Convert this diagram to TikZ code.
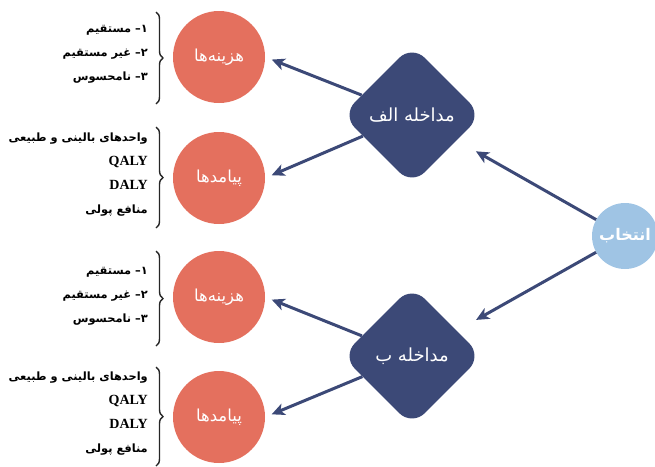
\documentclass[tikz,border=0pt]{standalone}
\usepackage{fontspec}
\setmainfont{Liberation Serif}
\newfontfamily\arabicfont[Script=Arabic]{DejaVu Sans}
\TeXXeTstate=1
\usetikzlibrary{shapes.geometric, arrows.meta, decorations.pathreplacing}
\definecolor{salmon}{HTML}{E4705E}
\definecolor{navy}{HTML}{3C4977}
\definecolor{skyblue}{HTML}{9FC4E4}

\begin{document}
\begin{tikzpicture}[x=1pt,y=-1pt,
  outcome/.style={circle, fill=salmon, minimum size=92pt, inner sep=0pt,
    text=white, font=\arabicfont\fontsize{16.5}{18}\selectfont},
  option/.style={diamond, fill=navy, minimum width=140pt, minimum height=140pt,
    inner sep=0pt, rounded corners=18pt, text=white,
    font=\arabicfont\fontsize{18}{20}\selectfont},
  choice/.style={circle, fill=skyblue, minimum size=66pt, inner sep=0pt,
    text=white, font=\arabicfont\bfseries\fontsize{16}{18}\selectfont},
  link/.style={draw=navy, line width=3pt,
    -{Stealth[length=13pt,width=12pt,inset=3.5pt]}},
  items/.style={anchor=east, align=right, inner sep=0pt,
    font=\arabicfont\bfseries\fontsize{11.4}{24}\selectfont},
  bracket/.style={draw=black!85, line width=1.4pt, decorate,
    decoration={brace, amplitude=7pt}}]

\useasboundingbox (0,0) rectangle (655,466);

% main choice and the two interventions
\node[choice] (pick) at (625,236) {\beginR انتخاب\endR};
\node[option] (optA) at (412,115) {\beginR مداخله الف\endR};
\node[option] (optB) at (412,356) {\beginR مداخله ب\endR};

% costs and outcomes of each intervention
\node[outcome] (costA) at (219,57)  {\beginR هزینه^^^^200cها\endR};
\node[outcome] (effA)  at (219,178) {\beginR پیامدها\endR};
\node[outcome] (costB) at (219,297) {\beginR هزینه^^^^200cها\endR};
\node[outcome] (effB)  at (219,417) {\beginR پیامدها\endR};

% arrows
\draw[link, shorten >=22pt] (pick) -- (optA);
\draw[link, shorten >=22pt] (pick) -- (optB);
\draw[link, shorten >=7pt] (optA) -- (costA.east);
\draw[link, shorten >=7pt] (optA) -- (effA.east);
\draw[link, shorten >=7pt] (optB) -- (costB.east);
\draw[link, shorten >=7pt] (optB) -- (effB.east);

% braces
\coordinate (bA1) at (156,12);  \coordinate (bA2) at (156,104);
\coordinate (bA3) at (156,127); \coordinate (bA4) at (156,228);
\coordinate (bB1) at (156,251); \coordinate (bB2) at (156,346);
\coordinate (bB3) at (156,367); \coordinate (bB4) at (156,466);
\draw[bracket] (bA1) -- (bA2);
\draw[bracket] (bA3) -- (bA4);
\draw[bracket] (bB1) -- (bB2);
\draw[bracket] (bB3) -- (bB4);

% item lists
\node[items] (listCA) at (148,54) {%
  \beginR ۱– مستقیم\endR\\
  \beginR ۲– غیر مستقیم\endR\\
  \beginR ۳– نامحسوس\endR};
\node[items] (listEA) at (148,175) {%
  \beginR واحدهای بالینی و طبیعی\endR\\
  {\normalfont\bfseries\fontsize{14}{24}\selectfont QALY}\\
  {\normalfont\bfseries\fontsize{14}{24}\selectfont DALY}\\
  \beginR منافع پولی\endR};
\node[items] (listCB) at (148,296) {%
  \beginR ۱– مستقیم\endR\\
  \beginR ۲– غیر مستقیم\endR\\
  \beginR ۳– نامحسوس\endR};
\node[items] (listEB) at (148,414) {%
  \beginR واحدهای بالینی و طبیعی\endR\\
  {\normalfont\bfseries\fontsize{14}{24}\selectfont QALY}\\
  {\normalfont\bfseries\fontsize{14}{24}\selectfont DALY}\\
  \beginR منافع پولی\endR};
\end{tikzpicture}
\end{document}
